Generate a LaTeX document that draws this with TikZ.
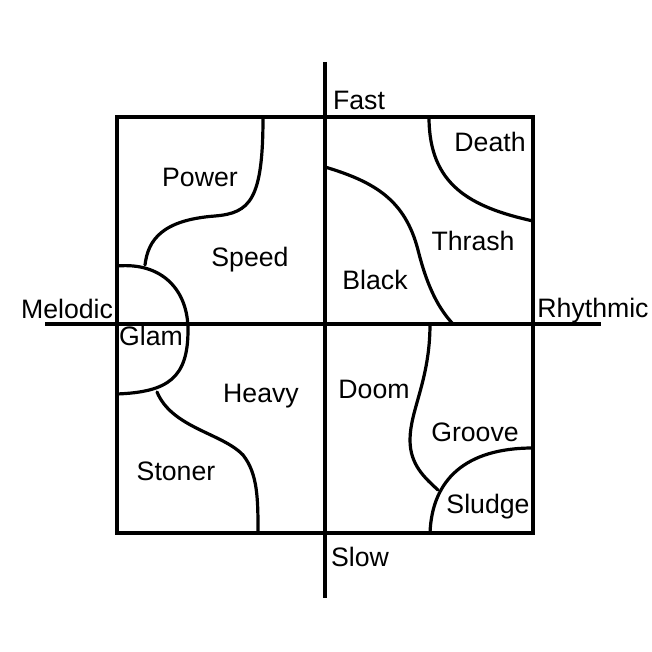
\documentclass[tikz,border=0pt]{standalone}
\usepackage{fontspec}
\setmainfont{Liberation Sans}
\begin{document}
\begin{tikzpicture}[x=0.75pt,y=-0.75pt,line width=2.4pt,line cap=round,
  genre/.style={font=\fontsize{20}{23}\selectfont,inner sep=0pt}]
\useasboundingbox (0,0) rectangle (652,652);
% frame and axes
\draw[line cap=rect] (117,117) rectangle (533,533);
\coordinate (fast) at (325,62);
\coordinate (slow) at (325,598);
\coordinate (melodic) at (45,324);
\coordinate (rhythmic) at (601,324);
\draw[line cap=butt] (fast) -- (slow);
\draw[line cap=butt] (melodic) -- (rhythmic);
\node[genre] (lfast) at (359,100) {Fast};
\node[genre] (lslow) at (360,557) {Slow};
\node[genre] (lmelodic) at (67,309) {Melodic};
\node[genre] (lrhythmic) at (593,311) {Rhythmic};
% borders between genres
\draw (263,117) .. controls (263,200) and (250,213) .. (215,216)
  .. controls (162,220) and (148,240) .. (145,265);
\draw (117,266) .. controls (162,262) and (188,290) .. (188,330)
  .. controls (188,378) and (168,392) .. (117,394);
\draw (157,392) .. controls (172,428) and (222,433) .. (243,455)
  .. controls (258,474) and (258,500) .. (258,533);
\draw (429,117) .. controls (429,185) and (470,207) .. (533,221);
\draw (325,167) .. controls (375,182) and (405,200) .. (418,250)
  .. controls (428,290) and (440,310) .. (453,324);
\draw (430,324) .. controls (430,380) and (410,410) .. (410,440)
  .. controls (410,465) and (425,478) .. (438,490);
\draw (533,448) .. controls (465,448) and (432,480) .. (430,533);
% genre names
\node[genre] (power) at (200,177) {Power};
\node[genre] (speed) at (250,260) {Speed};
\node[genre] (glam) at (151,336) {Glam};
\node[genre] (heavy) at (261,396) {Heavy};
\node[genre] (stoner) at (176,471) {Stoner};
\node[genre] (death) at (490,142) {Death};
\node[genre] (thrash) at (473,241) {Thrash};
\node[genre] (black) at (375,280) {Black};
\node[genre] (doom) at (374,389) {Doom};
\node[genre] (groove) at (475,432) {Groove};
\node[genre] (sludge) at (488,507) {Sludge};
\end{tikzpicture}
\end{document}
